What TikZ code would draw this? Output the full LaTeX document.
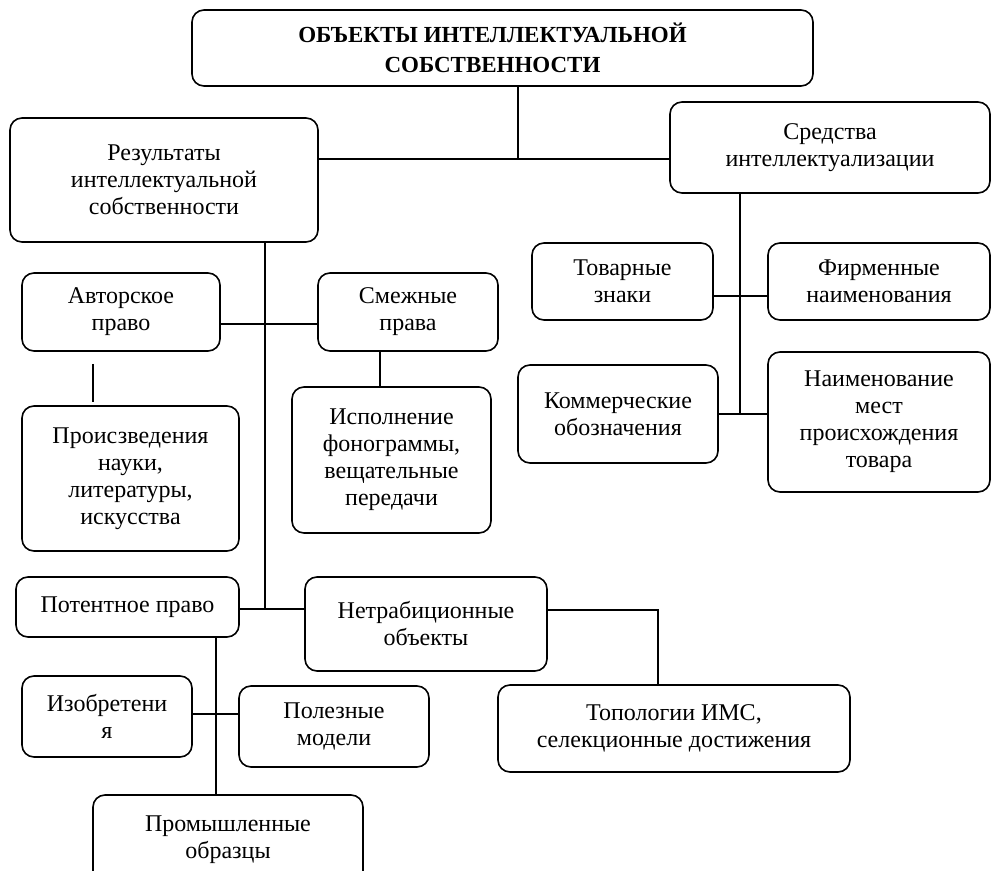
\documentclass[tikz,border=0pt]{standalone}
\usepackage{fontspec}
\setmainfont{Liberation Serif}
\usetikzlibrary{calc,positioning}

\begin{document}
\begin{tikzpicture}[x=0.5pt,y=-0.5pt,
  blk/.style={draw,line width=0.8pt,rounded corners=6pt,align=center,inner sep=0pt,
    font=\fontsize{12}{13.5}\selectfont},
  lnk/.style={line width=0.6pt}]
  \useasboundingbox (0,0) rectangle (991,871);
  \node[blk,minimum width=310.5pt,minimum height=38pt,
    font=\bfseries\fontsize{11.5}{15}\selectfont](obj) at (502.5,48){ОБЪЕКТЫ ИНТЕЛЛЕКТУАЛЬНОЙ\hspace*{10pt}\\СОБСТВЕННОСТИ\hspace*{10pt}};
  \node[blk,minimum width=154pt,minimum height=62pt](res) at (164,180){Результаты\\интеллектуальной\\собственности};
  \node[blk,minimum width=160pt,minimum height=45.5pt](sred) at (830,147.5){Средства\\интеллектуализации};
  \node[blk,minimum width=90.5pt,minimum height=38.5pt](tov) at (622.5,281.5){Товарные\\знаки};
  \node[blk,minimum width=111pt,minimum height=38.5pt](firm) at (879,281.5){Фирменные\\наименования};
  \node[blk,minimum width=100pt,minimum height=49pt](komm) at (618,414){Коммерческие\\обозначения};
  \node[blk,minimum width=111pt,minimum height=70pt](naim) at (879,422){Наименование\\мест\\происхождения\\товара};
  \node[blk,minimum width=99pt,minimum height=39pt](avt) at (121,312){Авторское\\право};
  \node[blk,minimum width=90pt,minimum height=39pt](smezh) at (408,312){Смежные\\права};
  \node[blk,minimum width=108.5pt,minimum height=72.5pt](proizv) at (130.5,478.5){Происзведения\\науки,\\литературы,\\искусства};
  \node[blk,minimum width=99.5pt,minimum height=73pt](ispoln) at (391.5,460){Исполнение\\фонограммы,\\вещательные\\передачи};
  \node[blk,minimum width=111.5pt,minimum height=30pt](potent) at (127.5,607){Потентное право};
  \node[blk,minimum width=121pt,minimum height=47pt](netrad) at (426,624){Нетрабиционные\\объекты};
  \node[blk,minimum width=176pt,minimum height=43.5pt](topol) at (674,728.5){Топологии ИМС,\\селекционные достижения};
  \node[blk,minimum width=85pt,minimum height=40.5pt](izobr) at (107,716.5){Изобретени\\я};
  \node[blk,minimum width=95pt,minimum height=40.5pt](polez) at (334,726.5){Полезные\\модели};
  \node[blk,minimum width=135pt,minimum height=45pt](prom) at (228,840){Промышленные\\образцы};

  \coordinate (j1) at (518,159);
  \coordinate (j2) at (740,296);
  \coordinate (j3) at (740,414);
  \coordinate (j4) at (265,324);
  \coordinate (j5) at (265,609);
  \coordinate (j6) at (380,0);
  \coordinate (j7) at (658,610);
  \coordinate (j8) at (216,714);
  \coordinate (g1) at (93,364);
  \coordinate (g2) at (93,402);

  \draw[lnk](obj.south -| j1)--(j1);
  \draw[lnk](res.east |- j1)--(sred.west |- j1);
  \draw[lnk](sred.south -| j2)--(j3);
  \draw[lnk](tov.east |- j2)--(firm.west |- j2);
  \draw[lnk](komm.east |- j3)--(naim.west |- j3);
  \draw[lnk](res.south -| j4)--(j5);
  \draw[lnk](avt.east |- j4)--(smezh.west |- j4);
  \draw[lnk](potent.east |- j5)--(netrad.west |- j5);
  \draw[lnk](g1)--(g2);
  \draw[lnk](smezh.south -| j6)--(ispoln.north -| j6);
  \draw[lnk](netrad.east |- j7)--(j7)--(topol.north -| j7);
  \draw[lnk](potent.south -| j8)--(prom.north -| j8);
  \draw[lnk](izobr.east |- j8)--(polez.west |- j8);
\end{tikzpicture}
\end{document}
